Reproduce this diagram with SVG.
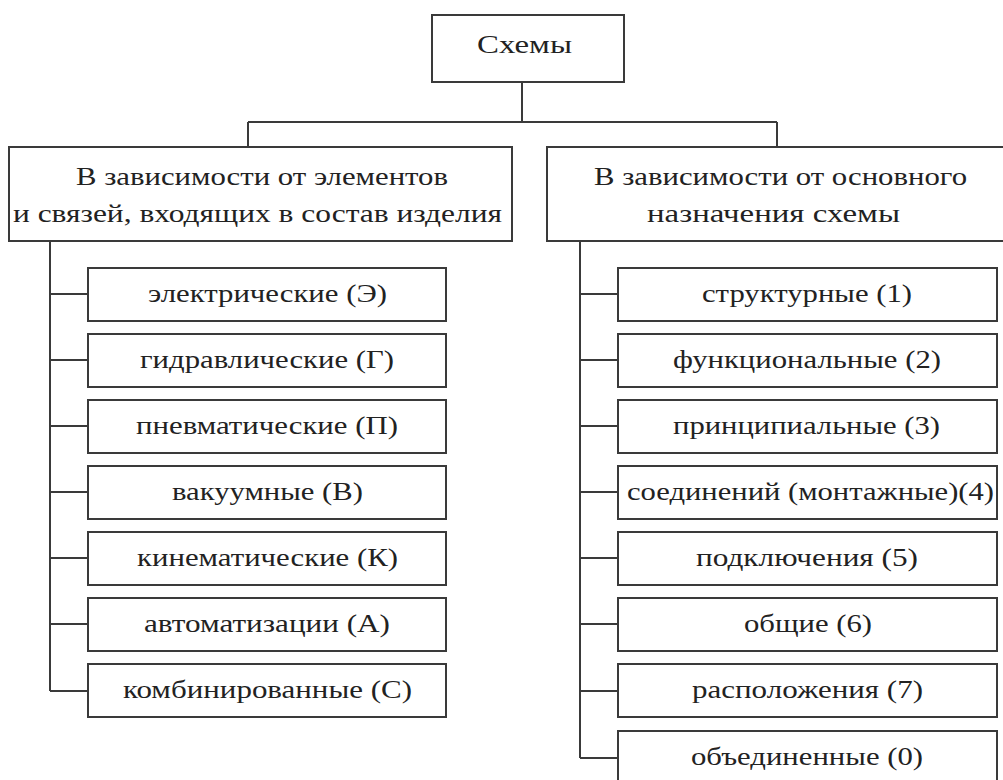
<svg xmlns="http://www.w3.org/2000/svg" width="1003" height="780" viewBox="0 0 1003 780">
<style>
rect{fill:#fff;stroke:#3a3a3a;stroke-width:2}
text{font-family:"Liberation Serif","Times New Roman",serif;font-size:26px;fill:#222;text-anchor:middle}
.c path{fill:none;stroke:#3a3a3a;stroke-width:2}
</style>
<rect x="0" y="0" width="1003" height="780" style="fill:#fff;stroke:none"/>
<g class="c" id="connectors">
<path d="M522 82V122M248 122H777M248 122V147M777 122V147"/>
<path d="M50 241V691M50 294H88M50 360H88M50 426H88M50 492H88M50 558H88M50 624H88M50 691H88"/>
<path d="M580 241V758M580 294H618M580 360H618M580 426H618M580 492H618M580 558H618M580 624H618M580 691H618M580 758H618"/>
</g>
<g id="root"><rect x="432" y="15" width="192" height="67"/><text x="524.5" y="53" textLength="95" lengthAdjust="spacingAndGlyphs">Схемы</text></g>
<g id="left"><rect x="9" y="147" width="503" height="94"/><text x="262" y="185" textLength="372" lengthAdjust="spacingAndGlyphs">В зависимости от элементов</text><text x="257.5" y="222" textLength="489" lengthAdjust="spacingAndGlyphs">и связей, входящих в состав изделия</text></g>
<g id="right"><rect x="547" y="147" width="460" height="94"/><text x="780.5" y="185" textLength="373" lengthAdjust="spacingAndGlyphs">В зависимости от основного</text><text x="773.5" y="222" textLength="253" lengthAdjust="spacingAndGlyphs">назначения схемы</text></g>
<g id="l1"><rect x="88" y="268" width="358" height="53"/><text x="267.5" y="302" textLength="239" lengthAdjust="spacingAndGlyphs">электрические (Э)</text></g>
<g id="l2"><rect x="88" y="334" width="358" height="53"/><text x="267" y="368" textLength="254" lengthAdjust="spacingAndGlyphs">гидравлические (Г)</text></g>
<g id="l3"><rect x="88" y="400" width="358" height="53"/><text x="267" y="434" textLength="262" lengthAdjust="spacingAndGlyphs">пневматические (П)</text></g>
<g id="l4"><rect x="88" y="466" width="358" height="53"/><text x="267.5" y="500" textLength="191" lengthAdjust="spacingAndGlyphs">вакуумные (В)</text></g>
<g id="l5"><rect x="88" y="532" width="358" height="53"/><text x="267.5" y="566" textLength="261" lengthAdjust="spacingAndGlyphs">кинематические (К)</text></g>
<g id="l6"><rect x="88" y="598" width="358" height="53"/><text x="267" y="632" textLength="246" lengthAdjust="spacingAndGlyphs">автоматизации (А)</text></g>
<g id="l7"><rect x="88" y="664" width="358" height="53"/><text x="267.5" y="698" textLength="289" lengthAdjust="spacingAndGlyphs">комбинированные (С)</text></g>
<g id="r1"><rect x="618" y="268" width="379" height="53"/><text x="807" y="302" textLength="210" lengthAdjust="spacingAndGlyphs">структурные (1)</text></g>
<g id="r2"><rect x="618" y="334" width="379" height="53"/><text x="807" y="368" textLength="268" lengthAdjust="spacingAndGlyphs">функциональные (2)</text></g>
<g id="r3"><rect x="618" y="400" width="379" height="53"/><text x="806.5" y="434" textLength="267" lengthAdjust="spacingAndGlyphs">принципиальные (3)</text></g>
<g id="r4"><rect x="618" y="466" width="379" height="53"/><text x="810.5" y="500" textLength="367" lengthAdjust="spacingAndGlyphs">соединений (монтажные)(4)</text></g>
<g id="r5"><rect x="618" y="532" width="379" height="53"/><text x="807" y="566" textLength="222" lengthAdjust="spacingAndGlyphs">подключения (5)</text></g>
<g id="r6"><rect x="618" y="598" width="379" height="53"/><text x="808" y="632" textLength="128" lengthAdjust="spacingAndGlyphs">общие (6)</text></g>
<g id="r7"><rect x="618" y="664" width="379" height="53"/><text x="807.5" y="698" textLength="231" lengthAdjust="spacingAndGlyphs">расположения (7)</text></g>
<g id="r8"><rect x="618" y="731" width="379" height="53"/><text x="807" y="765" textLength="232" lengthAdjust="spacingAndGlyphs">объединенные (0)</text></g>
</svg>
